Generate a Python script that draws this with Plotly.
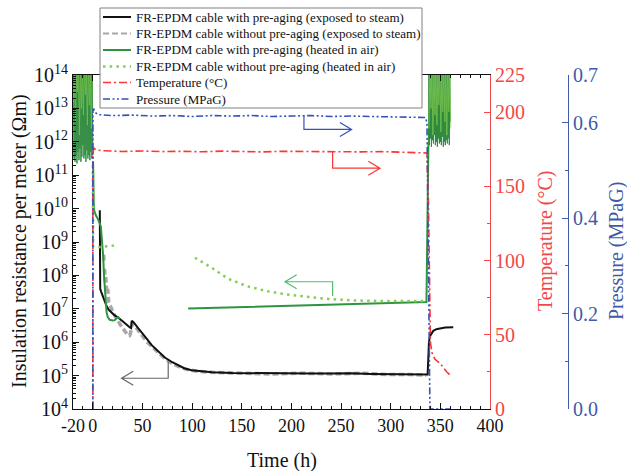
import plotly.graph_objects as go

FONT = "'Liberation Serif', 'Times New Roman', Tinos, 'DejaVu Serif', serif"

# ---------------- data ----------------
time_tickvals = [-20, 0, 50, 100, 150, 200, 250, 300, 350, 400]
time_ticktext = ["-20", "0", "50", "100", "150", "200", "250", "300", "350", "400"]
res_tickvals_log10 = [4, 5, 6, 7, 8, 9, 10, 11, 12, 13, 14]
temp_tickvals = [0, 50, 100, 150, 200, 225]
pres_tickvals = [0.0, 0.2, 0.4, 0.6, 0.7]
pres_ticktext = ["0.0", "0.2", "0.4", "0.6", "0.7"]

x_title = "Time (h)"
y_title = "Insulation resistance per meter (Ωm)"
y2_title = "Temperature (°C)"
y3_title = "Pressure (MPaG)"

# FR-EPDM cable with pre-aging (exposed to steam) -- log10(Ωm)
steam_aged_t = [7.0, 7.4, 8.5, 10.4, 12.0, 13.8, 16.0, 18.8, 22.0, 25.5,
                29.0, 32.2, 35.0, 37.3, 38.5, 39.2, 41.0, 45.6, 50.0, 55.0,
                59.0, 65.0, 72.5, 80.0, 86.0, 92.0, 99.4, 108.0, 120.0, 140.0,
                160.0, 180.0, 200.0, 220.0, 240.0, 260.0, 280.0, 300.0, 320.0, 336.0,
                337.2, 338.5, 339.6, 342.9, 346.0, 349.6, 355.0, 363.0]
steam_aged_log10 = [9.95, 7.6, 7.5, 7.35, 7.2, 7.08, 6.97, 6.89, 6.8, 6.74,
                    6.66, 6.59, 6.5, 6.44, 6.42, 6.64, 6.6, 6.42, 6.27, 6.08,
                    5.92, 5.74, 5.54, 5.40, 5.30, 5.22, 5.16, 5.13, 5.10, 5.08,
                    5.07, 5.06, 5.05, 5.06, 5.06, 5.07, 5.05, 5.04, 5.03, 5.02,
                    5.03, 6.0, 6.19, 6.34, 6.39, 6.41, 6.44, 6.45]

# FR-EPDM cable without pre-aging (exposed to steam)
steam_unaged_t = [10.8, 11.2, None, 11.8, 12.5, 13.0, 14.0, 15.0, 16.0, 17.5,
                  19.0, 21.0, 23.0, 25.0, 27.0, 29.0, 31.0, 33.0, 35.0, 37.0,
                  38.0, 39.5, 42.0, 46.0, 50.0, 55.0, 60.0, 66.0, 73.0, 80.0,
                  88.0, 95.0, 105.0, 120.0, 150.0, 180.0, 210.0, 240.0, 270.0, 300.0,
                  320.0, 336.0]
steam_unaged_log10 = [8.62, 8.42, None, 8.2, 7.8, 7.95, 7.5, 7.6, 7.2, 7.1,
                      6.95, 6.85, 6.75, 6.68, 6.55, 6.45, 6.35, 6.3, 6.22, 6.2,
                      6.28, 6.55, 6.5, 6.32, 6.18, 6.0, 5.85, 5.68, 5.5, 5.36,
                      5.25, 5.18, 5.13, 5.10, 5.07, 5.05, 5.07, 5.05, 5.07, 5.03,
                      5.03, 5.01]

# FR-EPDM cable with pre-aging (heated in air)
air_aged_t = [0.2, 0.6, 1.0, 3.0, 5.4, 8.0, 9.5, 10.4, 11.2, 12.0,
              13.0, 13.8, 15.0, 17.0, 20.0, 22.0, 24.0, 25.5, 27.0, None,
              96.0, 140.0, 188.0, 255.6, 300.0, 336.0, 336.8, 337.5, 338.0]
air_aged_log10 = [11.4, 10.4, 9.97, 9.8, 9.67, 9.47, 9.0, 8.58, 8.0, 7.58,
                  7.1, 6.9, 6.75, 6.67, 6.65, 6.66, 6.72, 6.75, 6.7, None,
                  7.01, 7.04, 7.08, 7.13, 7.17, 7.20, 9.5, 11.9, 12.0]
# noisy readings while off-scale (before steam start / after steam end)
air_aged_pre_t = [-19.5, -19.0, -18.5, -18.0, -17.5, -17.0, -16.5, -16.0, -15.5, -15.0,
                  -14.5, -14.0, -13.5, -13.0, -12.5, -12.0, -11.5, -11.0, -10.5, -10.0,
                  -9.5, -9.0, -8.5, -8.0, -7.5, -7.0, -6.5, -6.0, -5.5, -5.0,
                  -4.5, -4.0, -3.5, -3.0, -2.5, -2.0, -1.5, -1.0, -0.5, 0.0]
air_aged_pre_log10 = [14.3, 11.5, 14.2, 11.4, 14.4, 11.6, 14.1, 11.35, 14.3, 11.7,
                      14.2, 11.45, 14.5, 11.8, 14.0, 11.4, 14.3, 11.55, 14.2, 11.9,
                      14.4, 11.5, 14.1, 11.6, 14.3, 11.4, 14.2, 11.75, 14.5, 11.5,
                      14.0, 11.6, 14.3, 11.45, 14.2, 11.7, 14.4, 11.5, 14.1, 11.6]
air_aged_post_t = [338.0, 338.5, 339.0, 339.5, 340.0, 340.5, 341.0, 341.5, 342.0, 342.5,
                   343.0, 343.5, 344.0, 344.5, 345.0, 345.5, 346.0, 346.5, 347.0, 347.5,
                   348.0, 348.5, 349.0, 349.5, 350.0, 350.5, 351.0, 351.5, 352.0, 352.5,
                   353.0, 353.5, 354.0, 354.5, 355.0, 355.5, 356.0, 356.5, 357.0, 357.5,
                   358.0, 358.5, 359.0, 359.5, 360.0]
air_aged_post_log10 = [12.0, 14.3, 11.9, 14.2, 12.1, 14.4, 11.85, 14.3, 12.05, 14.2,
                       11.95, 14.4, 12.2, 14.1, 11.9, 14.3, 12.0, 14.2, 11.85, 14.4,
                       12.1, 14.3, 11.95, 14.2, 12.0, 14.3, 11.9, 14.4, 12.15, 14.2,
                       11.85, 14.3, 12.0, 14.1, 11.9, 14.3, 12.05, 14.2, 11.95, 14.4,
                       12.1, 14.3, 11.9, 14.2, 12.6]

# FR-EPDM cable without pre-aging (heated in air)
air_unaged_t = [0.0, 0.3, 1.5, 6.0, 12.0, 18.0, 24.0, None, 102.8, 119.6,
                136.3, 154.9, 175.0, 195.0, 215.0, 235.5, 262.0, 296.0, 336.0]
air_unaged_log10 = [11.3, 8.85, 8.83, 8.84, 8.86, 8.88, 8.9, None, 8.53, 8.23,
                    7.90, 7.68, 7.53, 7.43, 7.36, 7.30, 7.25, 7.23, 7.23]
air_unaged_pre_t = [-19.5, -18.5, -17.5, -16.5, -15.5, -14.5, -13.5, -12.5, -11.5, -10.5,
                    -9.5, -8.5, -7.5, -6.5, -5.5, -4.5, -3.5, -2.5, -1.5, -0.5]
air_unaged_pre_log10 = [13.2, 14.3, 12.6, 14.2, 13.5, 14.4, 12.2, 14.3, 13.0, 14.2,
                        12.8, 14.4, 13.4, 14.1, 12.5, 14.3, 13.1, 14.2, 12.4, 14.3]
air_unaged_post_t = [338.5, 339.5, 340.5, 341.5, 342.5, 343.5, 344.5, 345.5, 346.5, 347.5,
                     348.5, 349.5, 350.5, 351.5, 352.5, 353.5, 354.5, 355.5, 356.5, 357.5,
                     358.5, 359.5, 360.5]
air_unaged_post_log10 = [12.4, 14.3, 13.0, 14.2, 12.2, 14.4, 12.8, 14.3, 12.5, 14.2,
                         13.1, 14.4, 12.3, 14.1, 12.9, 14.3, 12.6, 14.2, 12.2, 14.4,
                         12.9, 14.3, 12.4]

# Temperature (°C)
temp_t = [0.0, 0.0, 1.0, 3.0, 10.0, 30.0, 50.0, 70.0, 90.0, 110.0,
          130.0, 150.0, 170.0, 190.0, 210.0, 230.0, 250.0, 270.0, 290.0, 310.0,
          335.0, 336.5, 338.0, 339.0, 340.0, 341.5, 344.6, 349.6, 356.3, 361.3]
temp_c = [0.0, 172.0, 176.0, 174.5, 174.0, 173.5, 173.8, 173.4, 173.6, 173.3,
          173.7, 173.5, 173.2, 173.6, 173.4, 173.3, 173.5, 173.2, 173.4, 173.1,
          173.0, 172.5, 140.0, 90.0, 45.0, 38.0, 33.5, 30.8, 25.1, 21.8]

# Pressure (MPaG)
pres_t = [0.0, 0.0, 0.8, 2.0, 5.0, 20.0, 40.0, 60.0, 80.0, 100.0,
          120.0, 140.0, 160.0, 180.0, 200.0, 220.0, 240.0, 260.0, 280.0, 300.0,
          320.0, 335.0, 336.5, 337.5, 338.5, 339.5, 345.0, 350.0, 355.0, 360.0]
pres_mpa = [0.0, 0.625, 0.63, 0.622, 0.617, 0.615, 0.616, 0.614, 0.615, 0.613,
            0.615, 0.614, 0.615, 0.613, 0.614, 0.615, 0.613, 0.614, 0.613, 0.612,
            0.612, 0.611, 0.6, 0.35, 0.1, 0.0, 0.0, 0.0, 0.0, 0.0]

legend_labels = [
    "FR-EPDM cable with pre-aging (exposed to steam)",
    "FR-EPDM cable without pre-aging (exposed to steam)",
    "FR-EPDM cable with pre-aging (heated in air)",
    "FR-EPDM cable without pre-aging (heated in air)",
    "Temperature (°C)",
    "Pressure (MPaG)",
]

# ---------------- styles ----------------
C_BLACK = "#111111"
C_GRAY = "#a8a8a8"
C_GREEN = "#2e9440"
C_GREEN_DARK = "#2f8a3f"
C_LGREEN = "#84cf52"
C_RED = "#ff3434"
C_BLUE = "#3452b8"
C_RED_AX = "#f04848"
C_BLUE_AX = "#3f5aa8"
C_ARROW_GREEN = "#55bb6e"

DASH_GRAY = "6px,3px"
DASH_DOT = "2.5px,4.2px"
DASH_RED = "8px,3px,2px,3px"
DASH_BLUE = "7px,2.5px,2px,2.5px,2px,2.5px"


def pw(vals):
    return [None if v is None else 10 ** v for v in vals]


fig = go.Figure()

# resistance traces (log axis)
fig.add_trace(go.Scatter(x=steam_unaged_t, y=pw(steam_unaged_log10), name=legend_labels[1],
                         mode="lines", line=dict(color=C_GRAY, width=3.5, dash=DASH_GRAY),
                         showlegend=False))
fig.add_trace(go.Scatter(x=steam_aged_t, y=pw(steam_aged_log10), name=legend_labels[0],
                         mode="lines", line=dict(color=C_BLACK, width=2), showlegend=False))
fig.add_trace(go.Scatter(x=air_aged_pre_t, y=pw(air_aged_pre_log10), name=legend_labels[2],
                         mode="lines", line=dict(color=C_GREEN_DARK, width=1), showlegend=False))
fig.add_trace(go.Scatter(x=air_aged_post_t, y=pw(air_aged_post_log10), name=legend_labels[2],
                         mode="lines", line=dict(color=C_GREEN_DARK, width=1), showlegend=False))
fig.add_trace(go.Scatter(x=air_unaged_pre_t, y=pw(air_unaged_pre_log10), name=legend_labels[3],
                         mode="lines", line=dict(color=C_LGREEN, width=1), opacity=0.7,
                         showlegend=False))
fig.add_trace(go.Scatter(x=air_unaged_post_t, y=pw(air_unaged_post_log10), name=legend_labels[3],
                         mode="lines", line=dict(color=C_LGREEN, width=1), opacity=0.7,
                         showlegend=False))
fig.add_trace(go.Scatter(x=air_aged_t, y=pw(air_aged_log10), name=legend_labels[2],
                         mode="lines", line=dict(color=C_GREEN, width=2), showlegend=False))
fig.add_trace(go.Scatter(x=air_unaged_t, y=pw(air_unaged_log10), name=legend_labels[3],
                         mode="lines", line=dict(color=C_LGREEN, width=2.5, dash=DASH_DOT),
                         showlegend=False))
# temperature / pressure
fig.add_trace(go.Scatter(x=temp_t, y=temp_c, name=legend_labels[4], yaxis="y2",
                         mode="lines", line=dict(color=C_RED, width=1.6, dash=DASH_RED),
                         showlegend=False))
fig.add_trace(go.Scatter(x=pres_t, y=pres_mpa, name=legend_labels[5], yaxis="y3",
                         mode="lines", line=dict(color=C_BLUE, width=1.6, dash=DASH_BLUE),
                         showlegend=False))

# ---------------- geometry helpers (paper coordinates) ----------------
L_PX, R_PX, T_PX, B_PX = 73, 575, 75, 409
PLOT_R = 490
XDOM = (PLOT_R - L_PX) / (R_PX - L_PX)


def X(px):
    return (px - L_PX) / (R_PX - L_PX)


def Y(py):
    return (B_PX - py) / (B_PX - T_PX)


def xt(t):
    return (t + 20) / 420 * XDOM


def y_log(v):
    return (v - 4) / 10


def y_temp(c):
    return c / 225


def y_pres(p):
    return p / 0.7


HX = 11.7 / (R_PX - L_PX)
HY = 7.0 / (B_PX - T_PX)


def arrow(x0, y0, yc, xe, color, s):
    return dict(type="path", xref="paper", yref="paper", layer="above",
                path=(f"M {x0},{y0} L {x0},{yc} L {xe},{yc} "
                      f"M {xe - s * HX},{yc + HY} L {xe},{yc} L {xe - s * HX},{yc - HY}"),
                line=dict(color=color, width=1.2))


shapes = [
    arrow(xt(212.6), y_pres(0.615), y_pres(0.586), xt(260.6), C_BLUE, 1),
    arrow(xt(241.5), y_temp(173.4), y_temp(162.2), xt(289.2), C_RED, 1),
    arrow(xt(241.5), y_log(7.38), y_log(7.81), xt(193.5), C_ARROW_GREEN, -1),
    arrow(xt(75.9), y_log(5.42), y_log(4.92), xt(28.9), "#666666", -1),
]

# manual legend
shapes.append(dict(type="rect", xref="paper", yref="paper", layer="above",
                   x0=X(100), x1=X(422), y0=Y(108), y1=Y(8),
                   line=dict(color="#808080", width=1), fillcolor="white"))
row_py = [17, 33.5, 50, 66.5, 82.5, 99]
samples = [(C_BLACK, 2, "solid"), (C_GRAY, 2, DASH_GRAY), (C_GREEN, 2, "solid"),
           (C_LGREEN, 2.5, DASH_DOT), (C_RED, 1.6, DASH_RED), (C_BLUE, 1.6, DASH_BLUE)]
annotations = []
for (col, wd, dsh), py, lab in zip(samples, row_py, legend_labels):
    shapes.append(dict(type="line", xref="paper", yref="paper", layer="above",
                       x0=X(103), x1=X(131), y0=Y(py), y1=Y(py),
                       line=dict(color=col, width=wd, dash=dsh)))
    annotations.append(dict(xref="paper", yref="paper", x=X(134), y=Y(py),
                            xanchor="left", yanchor="middle", showarrow=False,
                            text=lab, font=dict(family=FONT, size=13, color="#111111")))

# axis titles
annotations += [
    dict(xref="paper", yref="paper", x=X(282), y=Y(460), text=x_title, showarrow=False,
         xanchor="center", yanchor="middle", font=dict(family=FONT, size=20, color="#111111")),
    dict(xref="paper", yref="paper", x=X(19), y=Y(241), text=y_title, showarrow=False,
         textangle=-90, xanchor="center", yanchor="middle",
         font=dict(family=FONT, size=20, color="#111111")),
    dict(xref="paper", yref="paper", x=X(545), y=Y(241), text=y2_title, showarrow=False,
         textangle=-90, xanchor="center", yanchor="middle",
         font=dict(family=FONT, size=20, color=C_RED_AX)),
    dict(xref="paper", yref="paper", x=X(617), y=Y(251), text=y3_title, showarrow=False,
         textangle=-90, xanchor="center", yanchor="middle",
         font=dict(family=FONT, size=20, color=C_BLUE_AX)),
]

minor_log = [m * 10 ** e for e in range(4, 14) for m in range(2, 10)]

fig.update_layout(
    width=627, height=471,
    margin=dict(l=73, r=52, t=75, b=62, autoexpand=False),
    paper_bgcolor="white", plot_bgcolor="white",
    showlegend=False,
    font=dict(family=FONT, size=18, color="#111111"),
    shapes=shapes, annotations=annotations,
    xaxis=dict(domain=[0, XDOM], range=[-20, 400], tickmode="array",
               tickvals=time_tickvals, ticktext=time_ticktext, automargin=False,
               ticks="inside", ticklen=6, tickcolor="#111111", tickwidth=1,
               minor=dict(tickmode="linear", tick0=0, dtick=10, ticks="inside", ticklen=3,
                          tickcolor="#111111"),
               showline=True, linecolor="#111111", linewidth=1, mirror="ticks",
               showgrid=False, zeroline=False,
               tickfont=dict(family=FONT, size=18, color="#111111")),
    yaxis=dict(type="log", range=[4, 14], tickmode="array", automargin=False,
               tickvals=[10 ** v for v in res_tickvals_log10],
               ticktext=[f"10<sup>{v}</sup>" for v in res_tickvals_log10],
               ticks="inside", ticklen=6, tickcolor="#111111",
               minor=dict(tickmode="array", tickvals=minor_log, ticks="inside", ticklen=3,
                          tickcolor="#111111"),
               showline=True, linecolor="#111111", linewidth=1, mirror=False,
               showgrid=False, zeroline=False,
               tickfont=dict(family=FONT, size=20, color="#111111")),
    yaxis2=dict(overlaying="y", side="right", anchor="x", range=[0, 225], automargin=False,
                tickmode="array", tickvals=temp_tickvals,
                ticks="inside", ticklen=6, tickcolor=C_RED_AX,
                minor=dict(tickmode="linear", tick0=0, dtick=25, ticks="inside", ticklen=3,
                           tickcolor=C_RED_AX),
                showline=True, linecolor=C_RED_AX, linewidth=1.2,
                showgrid=False, zeroline=False,
                tickfont=dict(family=FONT, size=20, color=C_RED_AX)),
    yaxis3=dict(overlaying="y", side="right", anchor="free", position=X(568), range=[0, 0.7],
                tickmode="array", tickvals=pres_tickvals, ticktext=pres_ticktext,
                automargin=False,
                ticks="inside", ticklen=6, tickcolor=C_BLUE_AX,
                minor=dict(tickmode="linear", tick0=0, dtick=0.1, ticks="inside", ticklen=3,
                           tickcolor=C_BLUE_AX),
                showline=True, linecolor=C_BLUE_AX, linewidth=1.2,
                showgrid=False, zeroline=False,
                tickfont=dict(family=FONT, size=20, color=C_BLUE_AX)),
)

fig.write_html("out.html")
